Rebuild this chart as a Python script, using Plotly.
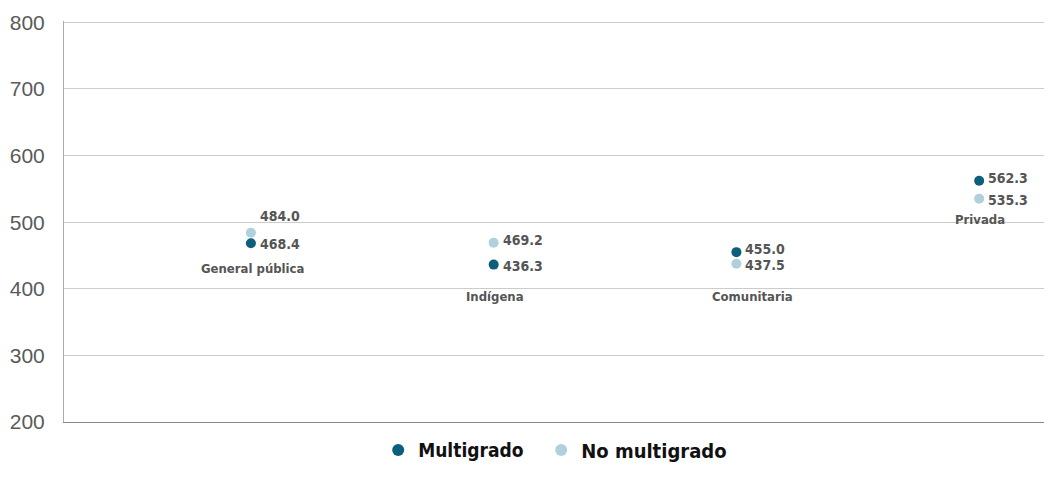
import plotly.graph_objects as go

categories = ["General pública", "Indígena", "Comunitaria", "Privada"]
multigrado = [468.4, 436.3, 455.0, 562.3]
no_multigrado = [484.0, 469.2, 437.5, 535.3]
cat_label_y = [430, 389, 389, 504]
cat_label_dx = [2, 1, 16, 1]
y_ticks = [200, 300, 400, 500, 600, 700, 800]

dark = "#0b5e7c"
light = "#b2d0dc"
narrow = "DejaVu Sans Condensed, Liberation Sans Narrow, sans-serif"

fig = go.Figure()
fig.add_trace(go.Scatter(x=list(range(len(categories))), y=no_multigrado, mode="markers",
                         name="No multigrado", marker=dict(color=light, size=10),
                         showlegend=False))
fig.add_trace(go.Scatter(x=list(range(len(categories))), y=multigrado, mode="markers",
                         name="Multigrado", marker=dict(color=dark, size=10),
                         showlegend=False))
# legend-only traces
fig.add_trace(go.Scatter(x=[None], y=[None], mode="markers", name="Multigrado",
                         marker=dict(color=dark, size=14), legend="legend"))
fig.add_trace(go.Scatter(x=[None], y=[None], mode="markers", name="No multigrado",
                         marker=dict(color=light, size=14), legend="legend2"))

ann = []
lab_font = dict(family=narrow, size=14, color="#555555", weight="bold")
for i, c in enumerate(categories):
    hi_is_m = multigrado[i] >= no_multigrado[i]
    for v, is_m in ((multigrado[i], True), (no_multigrado[i], False)):
        upper = (is_m == hi_is_m)
        if i == 0 and not is_m:
            xs, ys = 7, 17
        else:
            xs, ys = 7, (3 if upper else -1)
        ann.append(dict(x=i, y=v, text=f"{v:.1f}", showarrow=False, xanchor="left",
                        yanchor="middle", xshift=xs, yshift=ys, font=lab_font))
    ann.append(dict(x=i, y=cat_label_y[i], text=c, showarrow=False, xanchor="center",
                    yanchor="middle", xshift=cat_label_dx[i],
                    font=dict(family=narrow, size=13, color="#555555", weight="bold")))

leg_common = dict(orientation="h", y=-0.07, yanchor="middle", xanchor="left",
                  itemsizing="constant", bgcolor="rgba(0,0,0,0)")
leg_font = dict(family=narrow, size=19, color="#111111", weight="bold")

fig.update_layout(
    width=1044, height=480,
    margin=dict(l=56, r=0, t=13, b=66),
    plot_bgcolor="white", paper_bgcolor="white",
    annotations=ann,
    legend=dict(x=0.318, font=leg_font, **leg_common),
    legend2=dict(x=0.483, font=dict(leg_font, size=20), **leg_common),
    xaxis=dict(range=[-0.77, 3.30], showticklabels=False, showgrid=False, zeroline=False,
               showline=True, linecolor="#888888", linewidth=1, fixedrange=True,
               automargin=False),
    yaxis=dict(range=[200, 802], tickvals=y_ticks, showgrid=True, gridcolor="#cccccc",
               zeroline=False, showline=True, linecolor="#aaaaaa", linewidth=1,
               tickfont=dict(family="Liberation Sans, Arial, sans-serif", size=21, color="#5a5a5a"),
               ticklabelstandoff=14, automargin=False),
)
fig.write_html("out.html")
